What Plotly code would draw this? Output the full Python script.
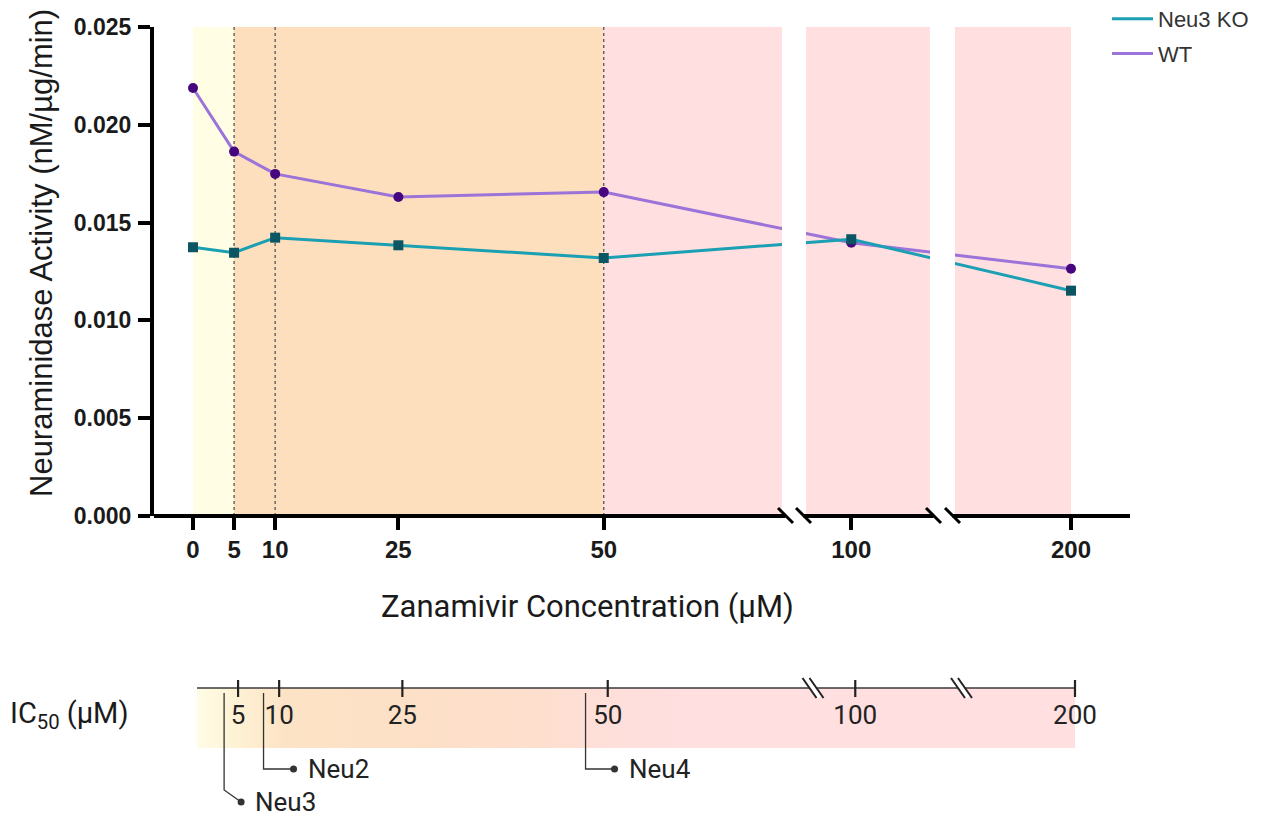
import plotly.graph_objects as go

# ---------------- data ----------------
CONCENTRATIONS = [0, 5, 10, 25, 50, 100, 200]  # zanamivir, µM
WT_ACTIVITY = [0.02188, 0.01863, 0.01749, 0.01631, 0.01656, 0.01397, 0.01264]
KO_ACTIVITY = [0.01374, 0.01346, 0.01423, 0.01384, 0.01319, 0.01415, 0.01152]
X_TICKS = [0, 5, 10, 25, 50, 100, 200]
Y_TICKS = [0.000, 0.005, 0.010, 0.015, 0.020, 0.025]
IC50_TICKS = [5, 10, 25, 50, 100, 200]
IC50_ISOFORMS = ["Neu3", "Neu2", "Neu4"]
IC50_VALUES = [3.3, 8.1, 47.3]  # µM
GUIDE_LINES = [5, 10, 50]       # dotted verticals

# ---------------- canvas / scales ----------------
W, H = 1267, 816
AX_LEFT, AX_RIGHT = 154, 1130   # columns spanned by the main plot area
ZERO_COL = 193                  # column of 0 µM
X_RANGE = [AX_LEFT - ZERO_COL, AX_RIGHT - ZERO_COL]
LOWER_SHIFT = 4                 # IC50 strip sits slightly right of the graph

# broken concentration axis: (conc_lo, conc_hi, axis_lo, axis_hi)
SEGMENTS = [(0.0, 71.7, 0.0, 589.0),
            (92.7, 112.7, 613.0, 737.0),
            (180.0, 200.0, 762.0, 878.0)]
GAPS = [(SEGMENTS[i][3], SEGMENTS[i + 1][2]) for i in range(len(SEGMENTS) - 1)]


def pos(c):
    for c0, c1, a0, a1 in SEGMENTS:
        if c0 <= c <= c1:
            return a0 + (c - c0) * (a1 - a0) / (c1 - c0)
    raise ValueError(c)


def py(row):
    return 1 - row / H


def pxf(col):
    return col / W


YELLOW, ORANGE, PINK = "#fffde3", "#fddfbd", "#ffdfe0"
WT_LINE, WT_MARK = "#9b73d9", "#45067f"
KO_LINE, KO_MARK = "#1ba0b3", "#0c5562"
INK = "#1a1a1a"

fig = go.Figure()

# ---------------- main graph ----------------
xs = [pos(c) for c in CONCENTRATIONS]
fig.add_trace(go.Scatter(x=xs, y=WT_ACTIVITY, mode="lines+markers", showlegend=False,
                         line=dict(color=WT_LINE, width=3),
                         marker=dict(symbol="circle", size=10, color=WT_MARK),
                         hoverinfo="skip"))
fig.add_trace(go.Scatter(x=xs, y=KO_ACTIVITY, mode="lines+markers", showlegend=False,
                         line=dict(color=KO_LINE, width=3),
                         marker=dict(symbol="square", size=10, color=KO_MARK),
                         hoverinfo="skip"))
# legend entries (line swatches only)
fig.add_trace(go.Scatter(x=[None], y=[None], mode="lines", name="Neu3 KO",
                         legendgroup="ko", line=dict(color=KO_LINE, width=3)))
fig.add_trace(go.Scatter(x=[None], y=[None], mode="lines", name="WT",
                         legendgroup="wt", line=dict(color=WT_LINE, width=3)))

shapes = []
bands = [(0, 5, YELLOW), (5, 50, ORANGE), (50, SEGMENTS[0][1], PINK),
         (SEGMENTS[1][0], SEGMENTS[1][1], PINK), (SEGMENTS[2][0], 200, PINK)]
for c0, c1, col in bands:
    shapes.append(dict(type="rect", xref="x", yref="y", x0=pos(c0), x1=pos(c1),
                       y0=0, y1=Y_TICKS[-1], fillcolor=col, line_width=0, layer="below"))
for c in GUIDE_LINES:
    shapes.append(dict(type="line", xref="x", yref="y", x0=pos(c), x1=pos(c),
                       y0=0, y1=Y_TICKS[-1], layer="below",
                       line=dict(color="#555555", width=1.3, dash="dot")))
# white gaps where the axis is broken
for g0, g1 in GAPS:
    shapes.append(dict(type="rect", xref="x", yref="y", x0=g0, x1=g1, y0=0,
                       y1=Y_TICKS[-1] * 1.01, fillcolor="white", line_width=0, layer="above"))

# x axis line with break marks
AXIS_ROW = 516
cuts = [X_RANGE[0]]
for g0, g1 in GAPS:
    cuts += [g0 + 3.5, g1 - 2.5]
cuts.append(X_RANGE[1])
for a, b in zip(cuts[0::2], cuts[1::2]):
    shapes.append(dict(type="line", xref="x", yref="paper", x0=a, x1=b,
                       y0=py(AXIS_ROW), y1=py(AXIS_ROW), line=dict(color="black", width=4)))
for c in cuts[1:-1]:
    shapes.append(dict(type="line", xref="x", yref="paper", x0=c - 7.5, x1=c + 7.5,
                       y0=py(AXIS_ROW - 8), y1=py(AXIS_ROW + 7), line=dict(color="black", width=3)))

# ---------------- IC50 strip ----------------
BAND_TOP, BAND_BOT = 688, 748
x_lo, x_hi = pos(0), pos(200)
fig.add_trace(go.Scatter(
    x=[x_lo, x_hi, x_hi, x_lo, x_lo], y=[BAND_TOP, BAND_TOP, BAND_BOT, BAND_BOT, BAND_TOP],
    xaxis="x2", yaxis="y2", mode="lines", line=dict(width=0), fill="toself",
    fillgradient=dict(type="horizontal", colorscale=[
        [0.0, "#fffce6"], [0.04, "#fef3d6"], [0.10, "#fde3c6"], [0.25, "#fde0c7"],
        [0.40, "#fedfcf"], [0.47, "#ffdfda"], [0.55, "#ffdfdf"], [1.0, "#ffdfe0"]]),
    showlegend=False, hoverinfo="skip"))

shapes.append(dict(type="line", xref="x2", yref="y2", x0=x_lo, x1=x_hi, y0=BAND_TOP, y1=BAND_TOP,
                   line=dict(color="#3a3a3a", width=1.6)))
for v in IC50_TICKS:
    shapes.append(dict(type="line", xref="x2", yref="y2", x0=pos(v), x1=pos(v),
                       y0=BAND_TOP - 8, y1=BAND_TOP + 9, line=dict(color="#222222", width=2.2)))
for g0, g1 in GAPS:
    mid = (g0 + g1) / 2 + 15
    shapes.append(dict(type="line", xref="x2", yref="y2", x0=mid - 7, x1=mid + 7,
                       y0=BAND_TOP - 9, y1=BAND_TOP + 9, line=dict(color="white", width=5)))
    for off in (-3.5, 3.5):
        shapes.append(dict(type="line", xref="x2", yref="y2", x0=mid + off - 7, x1=mid + off + 7,
                           y0=BAND_TOP - 10, y1=BAND_TOP + 10, line=dict(color="#222222", width=2)))

# callouts: vertical drop, then leader to a dot, then label
CALLOUT_PATHS = {"Neu3": (790, 17, 802), "Neu2": (769, 30, 769), "Neu4": (769, 29, 769)}
annotations = []
for name, v in zip(IC50_ISOFORMS, IC50_VALUES):
    p = pos(v)
    elbow, dx, end_row = CALLOUT_PATHS[name]
    fig.add_trace(go.Scatter(x=[p, p, p + dx], y=[BAND_TOP + 5, elbow, end_row],
                             xaxis="x2", yaxis="y2", mode="lines",
                             line=dict(color="#333333", width=1.3),
                             showlegend=False, hoverinfo="skip"))
    fig.add_trace(go.Scatter(x=[p + dx], y=[end_row], xaxis="x2", yaxis="y2", mode="markers",
                             marker=dict(size=7, color="#333333"), showlegend=False, hoverinfo="skip"))
    annotations.append(dict(xref="x2", yref="y2", x=p + dx + 12, y=end_row, text=name,
                            xanchor="left", yanchor="middle", showarrow=False,
                            font=dict(family="Roboto", size=26, color="#222222")))

# titles
annotations += [
    dict(xref="paper", yref="paper", x=pxf(41), y=py(253), textangle=-90,
         text="Neuraminidase Activity (nM/µg/min)", showarrow=False,
         xanchor="center", yanchor="middle",
         font=dict(family="Liberation Sans", size=31, color=INK)),
    dict(xref="paper", yref="paper", x=pxf(587), y=py(606),
         text="Zanamivir Concentration (µM)", showarrow=False,
         xanchor="center", yanchor="middle",
         font=dict(family="Roboto", size=31, color=INK)),
    dict(xref="paper", yref="paper", x=pxf(8), y=py(715),
         text="IC<sub>50</sub> (µM)", showarrow=False,
         xanchor="left", yanchor="middle",
         font=dict(family="Roboto", size=29, color=INK)),
]

fig.update_layout(
    width=W, height=H, margin=dict(l=0, r=0, t=0, b=0, autoexpand=False),
    paper_bgcolor="white", plot_bgcolor="white",
    shapes=shapes, annotations=annotations,
    xaxis=dict(domain=[pxf(AX_LEFT), pxf(AX_RIGHT)], range=X_RANGE, anchor="y",
               showline=False, showgrid=False, zeroline=False,
               tickvals=[pos(c) for c in X_TICKS], ticktext=[str(c) for c in X_TICKS],
               ticks="outside", ticklen=13, tickwidth=3.5, tickcolor="black",
               ticklabelstandoff=-1,
               tickfont=dict(family="Liberation Sans", size=24, color=INK, weight="bold")),
    yaxis=dict(domain=[py(516), py(27)], range=[0, Y_TICKS[-1]], anchor="x",
               showline=True, linewidth=4, linecolor="black",
               showgrid=False, zeroline=False,
               tickvals=Y_TICKS, ticktext=[f"{v:.3f}" for v in Y_TICKS],
               ticks="outside", ticklen=12, tickwidth=3.5, tickcolor="black",
               ticklabelstandoff=2,
               tickfont=dict(family="Liberation Sans", size=23, color=INK, weight="bold")),
    xaxis2=dict(domain=[pxf(AX_LEFT + LOWER_SHIFT), pxf(AX_RIGHT + LOWER_SHIFT)],
                range=X_RANGE, anchor="free", position=py(BAND_TOP),
                showline=False, showgrid=False, zeroline=False, ticks="",
                tickvals=[pos(v) for v in IC50_TICKS], ticktext=[str(v) for v in IC50_TICKS],
                ticklabelstandoff=9,
                tickfont=dict(family="Roboto", size=26, color="#222222")),
    yaxis2=dict(domain=[0, py(660)], range=[H, 660], anchor="x2", visible=False),
    legend=dict(x=pxf(1107), y=py(-2), xanchor="left", yanchor="top",
                bgcolor="rgba(0,0,0,0)", tracegroupgap=3, itemwidth=41,
                font=dict(family="Liberation Sans", size=22, color="#333333")),
)

fig.write_html("out.html")
